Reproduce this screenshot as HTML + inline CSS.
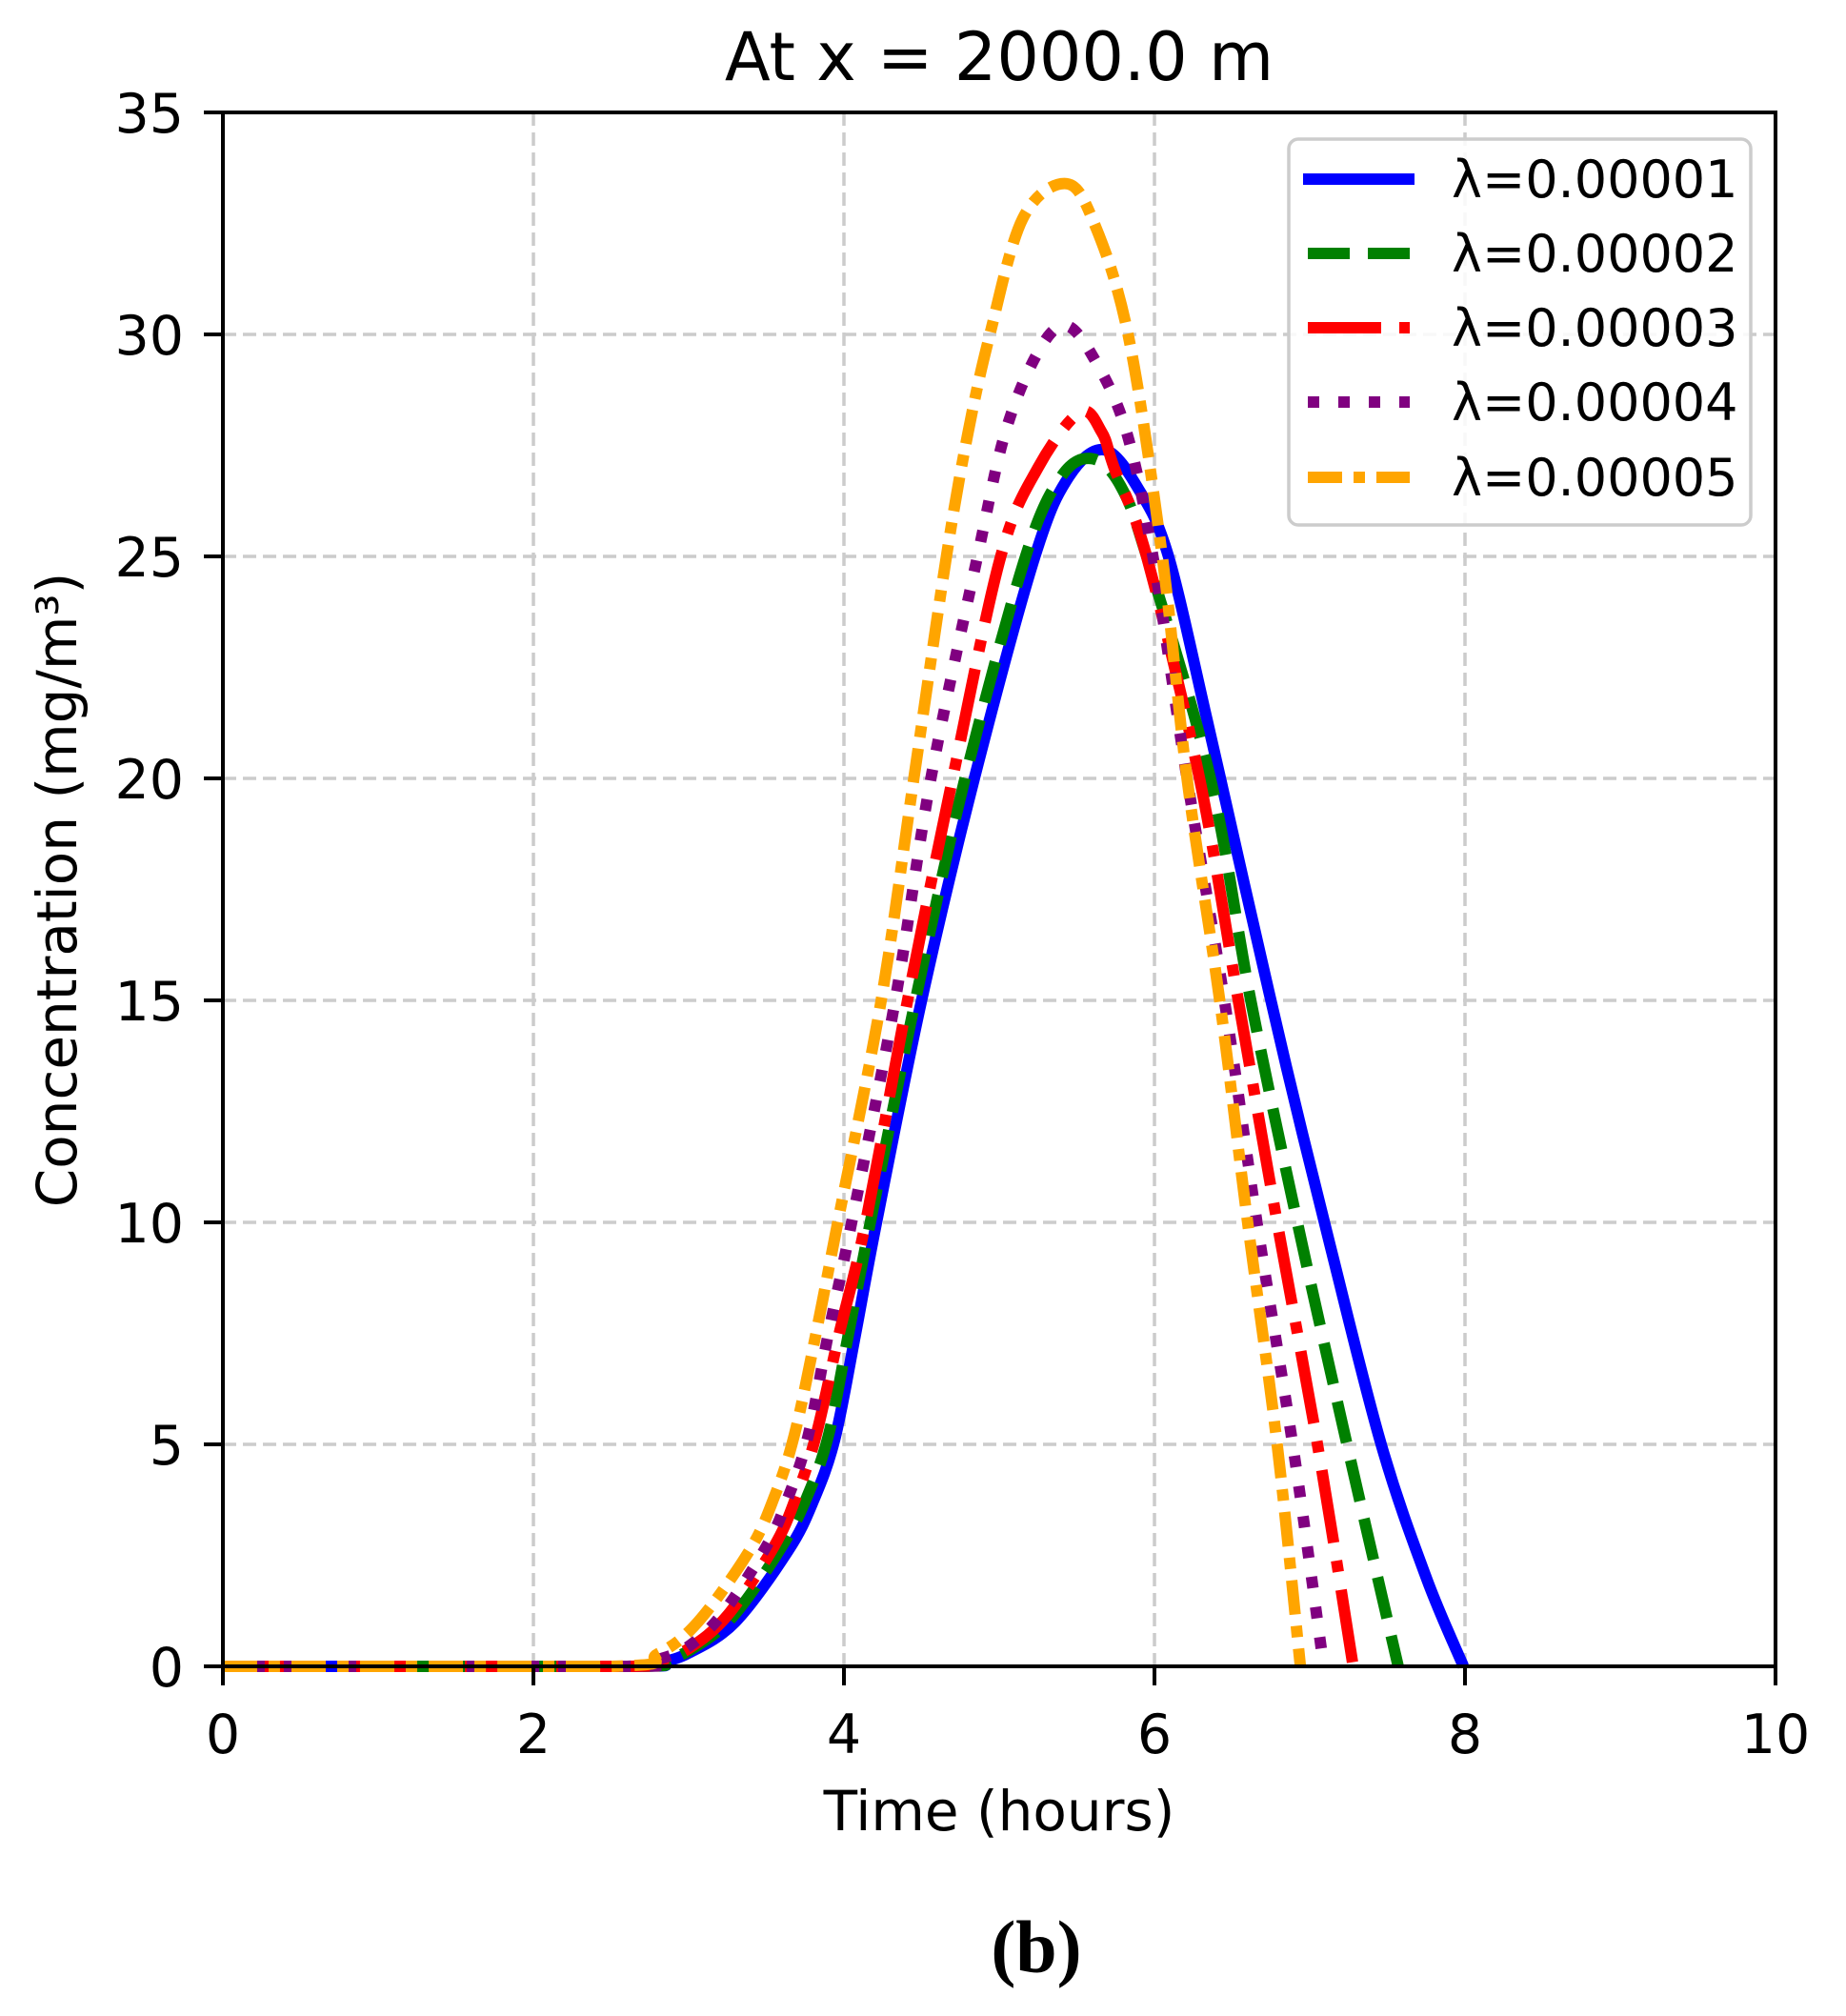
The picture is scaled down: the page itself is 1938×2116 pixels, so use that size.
<!DOCTYPE html>
<html><head><meta charset="utf-8"><style>
html,body{margin:0;padding:0;background:#fff;}
svg{display:block;}
text{font-family:"DejaVu Sans","Liberation Sans",sans-serif;fill:#000;}
</style></head><body>
<svg id="s" width="1938" height="2116" viewBox="0 0 1938 2116" xmlns="http://www.w3.org/2000/svg">
<rect width="1938" height="2116" fill="#fff"/>
<g id="grid" stroke="#cccccc" stroke-width="3.5" stroke-dasharray="14,7" fill="none">
<line x1="560" y1="118" x2="560" y2="1749"/>
<line x1="886" y1="118" x2="886" y2="1749"/>
<line x1="1212" y1="118" x2="1212" y2="1749"/>
<line x1="1538" y1="118" x2="1538" y2="1749"/>
<line x1="234" y1="1516" x2="1864" y2="1516"/>
<line x1="234" y1="1283" x2="1864" y2="1283"/>
<line x1="234" y1="1050" x2="1864" y2="1050"/>
<line x1="234" y1="817" x2="1864" y2="817"/>
<line x1="234" y1="584" x2="1864" y2="584"/>
<line x1="234" y1="351" x2="1864" y2="351"/>
</g>
<g id="curves" fill="none" stroke-width="12" stroke-linejoin="round"></g>
<rect x="234" y="118" width="1630" height="1631" fill="none" stroke="#000" stroke-width="4"/>
<g stroke="#000" stroke-width="4">
<line x1="234" y1="1749" x2="234" y2="1769"/><line x1="560" y1="1749" x2="560" y2="1769"/>
<line x1="886" y1="1749" x2="886" y2="1769"/><line x1="1212" y1="1749" x2="1212" y2="1769"/>
<line x1="1538" y1="1749" x2="1538" y2="1769"/><line x1="1864" y1="1749" x2="1864" y2="1769"/>
<line x1="214" y1="1749" x2="234" y2="1749"/><line x1="214" y1="1516" x2="234" y2="1516"/>
<line x1="214" y1="1283" x2="234" y2="1283"/><line x1="214" y1="1050" x2="234" y2="1050"/>
<line x1="214" y1="817" x2="234" y2="817"/><line x1="214" y1="584" x2="234" y2="584"/>
<line x1="214" y1="351" x2="234" y2="351"/><line x1="214" y1="118" x2="234" y2="118"/>
</g>
<g font-size="57" text-anchor="middle">
<text x="234" y="1840">0</text><text x="560" y="1840">2</text><text x="886" y="1840">4</text>
<text x="1212" y="1840">6</text><text x="1538" y="1840">8</text><text x="1864" y="1840">10</text>
</g>
<g font-size="57" text-anchor="end">
<text x="193" y="1770">0</text><text x="193" y="1537">5</text><text x="193" y="1304">10</text>
<text x="193" y="1071">15</text><text x="193" y="838">20</text><text x="193" y="605">25</text>
<text x="193" y="372">30</text><text x="193" y="139">35</text>
</g>
<text x="1049" y="1921" font-size="58" text-anchor="middle">Time (hours)</text>
<text transform="translate(80,934) rotate(-90)" font-size="58" text-anchor="middle">Concentration (mg/m³)</text>
<text x="1049" y="84" font-size="70" text-anchor="middle">At x = 2000.0 m</text>
<text x="1088" y="2070" font-size="78" font-weight="bold" text-anchor="middle" style="font-family:'Liberation Serif',serif">(b)</text>
<rect x="1353" y="146" width="485" height="405" rx="10" fill="#fff" fill-opacity="0.85" stroke="#cccccc" stroke-width="3.5"/>
<g stroke-width="12" fill="none">
<line x1="1368" y1="188" x2="1485" y2="188" stroke="#0000ff"/>
<line x1="1373" y1="266" x2="1480" y2="266" stroke="#008000" stroke-dasharray="44,19"/>
<line x1="1373" y1="344" x2="1480" y2="344" stroke="#ff0000" stroke-dasharray="77,19,12,19"/>
<line x1="1373" y1="422" x2="1480" y2="422" stroke="#800080" stroke-dasharray="12,20"/>
<line x1="1373" y1="501" x2="1480" y2="501" stroke="#ffa500" stroke-dasharray="36,12,12,12"/>
</g>
<g font-size="54">
<text x="1524" y="207">λ=0.00001</text>
<text x="1524" y="285">λ=0.00002</text>
<text x="1524" y="363">λ=0.00003</text>
<text x="1524" y="441">λ=0.00004</text>
<text x="1524" y="520">λ=0.00005</text>
</g>
</svg>
<script>
(function(){
function X(t){return 234+163*t;}
function Y(c){return 1749-46.6*c;}
var series=[
{c:"#0000ff",d:"",p:[[0,0],[2.6,0],[2.8,0.08],[3.0,0.3],[3.3,1.0],[3.64,2.6],[3.8,3.7],[3.94,5.1],[4.07,7.4],[4.21,10],[4.5,15],[4.84,20],[5.23,25],[5.45,26.8],[5.68,27.4],[5.9,26.5],[6.09,25],[6.34,21.3],[6.58,17.6],[6.85,13.5],[7.13,9.5],[7.46,5],[7.75,2],[7.99,0]]},
{c:"#008000",d:"44,19",p:[[0,0],[2.6,0],[2.8,0.1],[3.0,0.35],[3.28,1.1],[3.6,2.7],[3.76,3.8],[3.9,5.2],[4.03,7.5],[4.17,10],[4.46,15],[4.78,20],[5.17,25],[5.4,26.8],[5.6,27.2],[5.78,26.6],[5.95,25],[6.36,20],[6.62,15],[6.92,10],[7.24,5],[7.57,0]]},
{c:"#ff0000",d:"77,19,12,19",p:[[0,0],[2.6,0],[2.8,0.12],[3.0,0.4],[3.25,1.15],[3.55,2.7],[3.69,3.8],[3.82,5.2],[3.97,7.5],[4.14,10],[4.41,15],[4.7,20],[5.01,25],[5.25,27],[5.52,28.25],[5.66,27.8],[5.74,27],[5.95,25],[6.29,20],[6.54,15],[6.79,10],[7.05,5],[7.28,0]]},
{c:"#800080",d:"12,20",p:[[0,0],[2.6,0],[2.8,0.15],[3.0,0.45],[3.22,1.2],[3.5,2.7],[3.64,3.8],[3.77,5.2],[3.9,7.5],[4.05,10],[4.33,15],[4.56,20],[4.86,25],[5.04,27.8],[5.25,29.6],[5.43,30.2],[5.62,29.4],[5.82,27.8],[5.99,25],[6.21,20],[6.45,15],[6.66,10],[6.89,5],[7.09,0]]},
{c:"#ffa500",d:"36,12,12,12",p:[[0,0],[2.5,0],[2.8,0.28],[3.06,1],[3.39,2.6],[3.55,3.8],[3.68,5.2],[3.82,7.5],[3.96,10],[4.24,15],[4.45,20],[4.66,25],[4.8,27.8],[4.94,30],[5.15,32.6],[5.42,33.4],[5.6,32.6],[5.83,30],[6.05,25],[6.21,20],[6.42,15],[6.6,10],[6.79,5],[6.94,0]]}
];
var g=document.getElementById("curves");
series.forEach(function(s){
 var P=s.p.map(function(q){return [X(q[0]),Y(q[1])];});
 var d="M"+P[0][0]+","+P[0][1];
 for(var i=0;i<P.length-1;i++){
  var p0=P[Math.max(0,i-1)],p1=P[i],p2=P[i+1],p3=P[Math.min(P.length-1,i+2)];
  var c1x=p1[0]+(p2[0]-p0[0])/6,c1y=p1[1]+(p2[1]-p0[1])/6;
  var c2x=p2[0]-(p3[0]-p1[0])/6,c2y=p2[1]-(p3[1]-p1[1])/6;
  c1y=Math.min(c1y,1749);c2y=Math.min(c2y,1749);
  d+=" C"+c1x.toFixed(1)+","+c1y.toFixed(1)+" "+c2x.toFixed(1)+","+c2y.toFixed(1)+" "+p2[0].toFixed(1)+","+p2[1].toFixed(1);
 }
 var e=document.createElementNS("http://www.w3.org/2000/svg","path");
 e.setAttribute("d",d);e.setAttribute("stroke",s.c);
 if(s.d)e.setAttribute("stroke-dasharray",s.d);
 g.appendChild(e);
});
})();
</script>
</body></html>
